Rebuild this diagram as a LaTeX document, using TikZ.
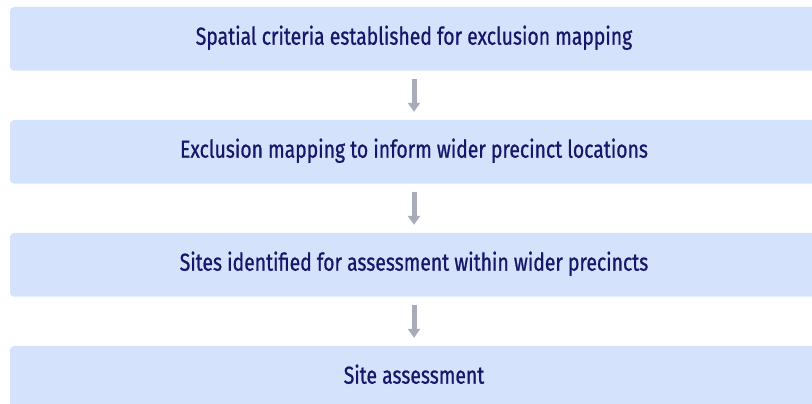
\documentclass[tikz,border=0pt]{standalone}
\usepackage{fontspec}
\setmainfont[FakeStretch=0.79,FakeBold=0.8]{Fira Sans}
\usetikzlibrary{arrows.meta}
\definecolor{boxfill}{HTML}{D5E2FC}
\definecolor{navytext}{HTML}{16166A}
\definecolor{arrowgray}{HTML}{A9ABBA}
\tikzset{
  stepbox/.style={rectangle, rounded corners=4pt, fill=boxfill, draw=none,
    minimum width=808pt, inner xsep=0pt, inner ysep=0pt,
    text height=37.7pt, text depth=26pt, align=center,
    text=navytext, font=\fontsize{24.5}{28}\selectfont},
  flowarrow/.style={draw=arrowgray, line width=5pt,
    -{Triangle[width=12pt,length=9pt]}, shorten <=8.5pt, shorten >=8pt}
}
\begin{document}
\begin{tikzpicture}[x=1pt,y=1pt]
\useasboundingbox (0,0) rectangle (812,404);
\clip (0,0) rectangle (812,404);
\node[stepbox] (b1) at (414,365.15) {Spatial criteria established for exclusion mapping};
\node[stepbox] (b2) at (414,252.15) {Exclusion mapping to inform wider precinct locations};
\node[stepbox] (b3) at (414,139.15) {Sites identified for assessment within wider precincts};
\node[stepbox] (b4) at (414,26.15) {Site assessment};
\draw[flowarrow] (b1.south) -- (b2.north);
\draw[flowarrow] (b2.south) -- (b3.north);
\draw[flowarrow] (b3.south) -- (b4.north);
\end{tikzpicture}
\end{document}
